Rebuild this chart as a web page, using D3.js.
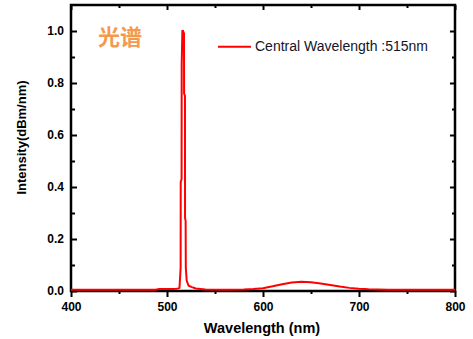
<!DOCTYPE html>
<html>
<head>
<meta charset="utf-8">
<script src="https://cdn.jsdelivr.net/npm/d3@7/dist/d3.min.js"></script>
<style>
  html, body { margin: 0; padding: 0; background: #fff; }
  svg { display: block; }
</style>
</head>
<body>
<svg id="chart" width="473" height="339"></svg>
<script>
// Emission spectrum of the green source (normalised intensity)
const wavelengths = [400, 450, 488, 492, 500, 506, 510, 512, 513.0, 514.2, 514.3, 515.2, 515.3, 516.0,
  516.8, 517.7, 517.8, 518.7, 518.8, 519.4, 519.6, 520.5, 522.5, 526, 530, 535, 540, 560,
  580, 590, 600, 610, 620, 630, 640, 650, 660, 670, 680, 690, 700, 710, 720, 730, 750, 800];
const intensity = [0.005, 0.005, 0.005, 0.008, 0.008, 0.008, 0.009, 0.01, 0.012, 0.09, 0.42, 0.43, 0.87, 1.0,
  1.0, 0.99, 0.76, 0.75, 0.28, 0.27, 0.09, 0.04, 0.02, 0.015, 0.01, 0.008, 0.006, 0.005,
  0.006, 0.008, 0.011, 0.018, 0.026, 0.033, 0.036, 0.034, 0.029, 0.023, 0.017, 0.012, 0.009, 0.007, 0.006, 0.005, 0.005, 0.005];

const xMajorTicks = [400, 500, 600, 700, 800];
const xMinorTicks = [450, 550, 650, 750];
const yMajorTicks = [0.0, 0.2, 0.4, 0.6, 0.8, 1.0];
const yMinorTicks = [0.1, 0.3, 0.5, 0.7, 0.9];

const legendLabel = "Central Wavelength :515nm";
const chartTag = "光谱";
const xTitle = "Wavelength (nm)";
const yTitle = "Intensity(dBm/nm)";

const svg = d3.select("#chart");
const margin = { left: 71, top: 5, right: 18, bottom: 48 };
const W = 473 - margin.left - margin.right;   // 384
const H = 339 - margin.top - margin.bottom;   // 286

const x = d3.scaleLinear().domain([400, 800]).range([0, W]);
const y = d3.scaleLinear().domain([0, 1.1]).range([H, 0]);

const g = svg.append("g").attr("transform", `translate(${margin.left},${margin.top})`);

const tickFont = "'Liberation Sans', Arial, sans-serif";

function styleAxis(sel) {
  sel.select(".domain").remove();
  sel.selectAll(".tick line").attr("stroke", "#000").attr("stroke-width", 2);
  sel.selectAll(".tick text")
    .attr("fill", "#000")
    .style("font-family", tickFont)
    .style("font-size", "12px")
    .style("font-weight", "bold");
}

// Bottom axis: ticks point outward, labelled
g.append("g").attr("transform", `translate(0,${H})`)
  .call(d3.axisBottom(x).tickValues(xMajorTicks).tickSize(6).tickPadding(5).tickFormat(d3.format("d")))
  .call(styleAxis);
g.append("g").attr("transform", `translate(0,${H})`)
  .call(d3.axisBottom(x).tickValues(xMinorTicks).tickSize(3).tickFormat(""))
  .call(styleAxis);

// Top axis: inward ticks only
g.append("g")
  .call(d3.axisTop(x).tickValues(xMajorTicks).tickSize(-5).tickFormat(""))
  .call(styleAxis);
g.append("g")
  .call(d3.axisTop(x).tickValues(xMinorTicks).tickSize(-3).tickFormat(""))
  .call(styleAxis);

// Left axis: inward ticks, labelled
g.append("g")
  .call(d3.axisLeft(y).tickValues(yMajorTicks).tickSize(-6).tickPadding(7).tickFormat(d3.format(".1f")))
  .call(styleAxis);
g.append("g")
  .call(d3.axisLeft(y).tickValues(yMinorTicks).tickSize(-4).tickFormat(""))
  .call(styleAxis);

// Right axis: inward ticks only
g.append("g").attr("transform", `translate(${W},0)`)
  .call(d3.axisRight(y).tickValues(yMajorTicks).tickSize(-5).tickFormat(""))
  .call(styleAxis);
g.append("g").attr("transform", `translate(${W},0)`)
  .call(d3.axisRight(y).tickValues(yMinorTicks).tickSize(-3).tickFormat(""))
  .call(styleAxis);

// Plot frame
g.append("rect")
  .attr("x", 0).attr("y", 0).attr("width", W).attr("height", H)
  .attr("fill", "none").attr("stroke", "#000").attr("stroke-width", 2.5);

// Spectrum trace
const series = wavelengths.map((w, i) => ({ w, v: intensity[i] }));
g.append("clipPath").attr("id", "plot-clip")
  .append("rect").attr("x", 0).attr("y", -2).attr("width", W).attr("height", H + 4);
g.append("path")
  .datum(series)
  .attr("clip-path", "url(#plot-clip)")
  .attr("fill", "none")
  .attr("stroke", "#ff0000")
  .attr("stroke-width", 2)
  .attr("stroke-linejoin", "miter")
  .attr("d", d3.line().x(d => x(d.w)).y(d => y(d.v)));

// Legend
const legY = 41.7;
g.append("line")
  .attr("x1", 147).attr("x2", 180)
  .attr("y1", legY).attr("y2", legY)
  .attr("stroke", "#ff0000").attr("stroke-width", 2);
g.append("text")
  .attr("x", 184).attr("y", legY + 4.5)
  .attr("fill", "#141428")
  .style("font-family", tickFont)
  .style("font-size", "14px")
  .text(legendLabel);

// Chart tag
g.append("text")
  .attr("x", 27).attr("y", 40)
  .attr("fill", "#f5994d")
  .style("font-family", "'Noto Sans CJK SC', sans-serif")
  .style("font-size", "22px")
  .style("font-weight", "bold")
  .text(chartTag);

// Axis titles
svg.append("text")
  .attr("x", margin.left + W / 2 - 1).attr("y", 333)
  .attr("text-anchor", "middle")
  .attr("fill", "#000")
  .style("font-family", tickFont)
  .style("font-size", "14.5px")
  .style("font-weight", "bold")
  .text(xTitle);

svg.append("text")
  .attr("transform", "translate(26,137.5) rotate(-90)")
  .attr("text-anchor", "middle")
  .attr("fill", "#000")
  .style("font-family", tickFont)
  .style("font-size", "13px")
  .style("font-weight", "bold")
  .text(yTitle);
</script>
</body>
</html>
